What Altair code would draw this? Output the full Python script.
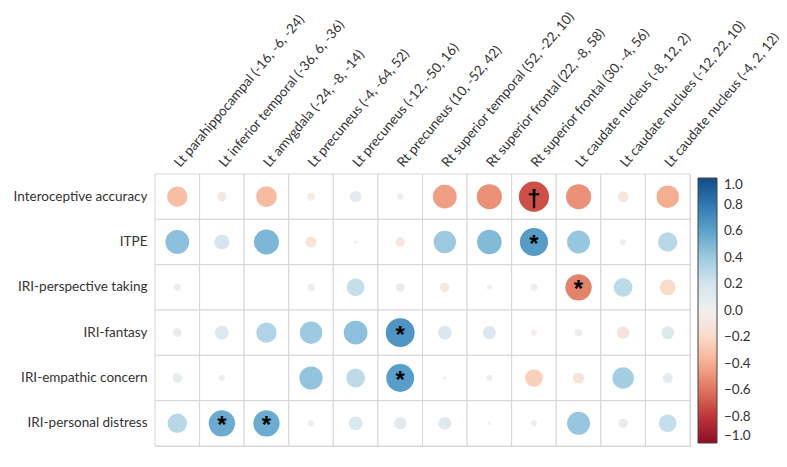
import altair as alt
import pandas as pd

regions = [
    "Lt parahippocampal (-16, -6, -24)",
    "Lt inferior temporal (-36, 6, -36)",
    "Lt amygdala (-24, -8, -14)",
    "Lt precuneus (-4, -64, 52)",
    "Lt precuneus (-12, -50, 16)",
    "Rt precuneus (10, -52, 42)",
    "Rt superior temporal (52, -22, 10)",
    "Rt superior frontal (22, -8, 58)",
    "Rt superior frontal (30, -4, 56)",
    "Lt caudate nucleus (-8, 12, 2)",
    "Lt caudate nuclues (-12, 22, 10)",
    "Lt caudate nucleus (-4, 2, 12)",
]

measures = [
    "Interoceptive accuracy",
    "ITPE",
    "IRI-perspective taking",
    "IRI-fantasy",
    "IRI-empathic concern",
    "IRI-personal distress",
]

interoceptive_accuracy = [-0.33, -0.07, -0.34, -0.05, 0.10, -0.03, -0.45, -0.50, -0.72, -0.50, -0.09, -0.40]
itpe = [0.45, 0.18, 0.50, -0.10, 0.01, -0.07, 0.40, 0.48, 0.63, 0.42, 0.03, 0.30]
iri_perspective = [0.04, 0.0, 0.0, 0.04, 0.25, 0.06, -0.07, 0.02, -0.04, -0.55, 0.28, -0.20]
iri_fantasy = [0.06, 0.15, 0.33, 0.40, 0.45, 0.66, 0.15, 0.14, -0.03, 0.04, -0.12, 0.13]
iri_empathic = [0.07, 0.03, 0.0, 0.43, 0.28, 0.62, 0.01, -0.03, -0.25, -0.10, 0.37, 0.08]
iri_distress = [0.30, 0.55, 0.55, -0.03, 0.15, 0.12, 0.13, 0.01, 0.03, 0.42, 0.07, 0.25]

values = [interoceptive_accuracy, itpe, iri_perspective, iri_fantasy, iri_empathic, iri_distress]

sig_rows = ["Interoceptive accuracy", "ITPE", "IRI-perspective taking", "IRI-fantasy",
            "IRI-empathic concern", "IRI-personal distress", "IRI-personal distress"]
sig_cols = [regions[8], regions[8], regions[9], regions[5], regions[5], regions[1], regions[2]]
sig_marks = ["†", "*", "*", "*", "*", "*", "*"]

legend_values = [-1, -0.8, -0.6, -0.4, -0.2, 0, 0.2, 0.4, 0.6, 0.8, 1]

recs = []
for m, vals in zip(measures, values):
    for reg, v in zip(regions, vals):
        recs.append({"measure": m, "region": reg, "r": v, "absr": abs(v)})
df = pd.DataFrame(recs)
sig = pd.DataFrame({"measure": sig_rows, "region": sig_cols, "mark": sig_marks})

FONT = "Lato"

x_enc = alt.X("region:N", sort=regions, scale=alt.Scale(domain=regions),
              axis=alt.Axis(orient="top", title=None, labelAngle=310, labelAlign="left",
                            labelBaseline="middle", labelPadding=9, ticks=False, domain=False,
                            labelFontSize=13.5, labelColor="#333333", labelFont=FONT,
                            labelLimit=300))
y_enc = alt.Y("measure:N", sort=measures, scale=alt.Scale(domain=measures),
              axis=alt.Axis(title=None, ticks=False, domain=False, labelPadding=8,
                            labelFontSize=13.5, labelColor="#333333", labelFont=FONT))

cells = alt.Chart(df).mark_rect(fill="white", stroke="#d6d6d6", strokeWidth=1).encode(
    x=x_enc, y=y_enc
)

circles = alt.Chart(df).mark_circle(opacity=1).encode(
    x=alt.X("region:N", sort=regions),
    y=alt.Y("measure:N", sort=measures),
    size=alt.Size("absr:Q", scale=alt.Scale(domain=[0, 1], range=[0, 1257]), legend=None),
    color=alt.Color("r:Q", scale=alt.Scale(scheme="redblue", domain=[-1, 1]),
                    legend=alt.Legend(title=None, orient="none", legendX=543, legendY=4,
                                      direction="vertical", gradientLength=265,
                                      gradientThickness=19, gradientStrokeColor="#444444",
                                      gradientStrokeWidth=1,
                                      values=legend_values,
                                      format=".1f", labelFontSize=13.5, labelColor="#333333",
                                      labelFont=FONT, labelOffset=7, labelOverlap=False,
                                      labelLimit=60)),
)

marks = alt.Chart(sig).mark_text(fontSize=24, fontWeight="bold", color="black", dy=3).encode(
    x=alt.X("region:N", sort=regions),
    y=alt.Y("measure:N", sort=measures),
    text="mark:N",
)

chart = alt.layer(cells, circles, marks).properties(
    width=535, height=272,
    padding={"left": 147, "top": 166, "right": 89, "bottom": 13},
    autosize="none",
).configure_view(strokeWidth=0).configure(background="white")

chart.save("out.html", embed_options={"renderer": "svg", "actions": False})
